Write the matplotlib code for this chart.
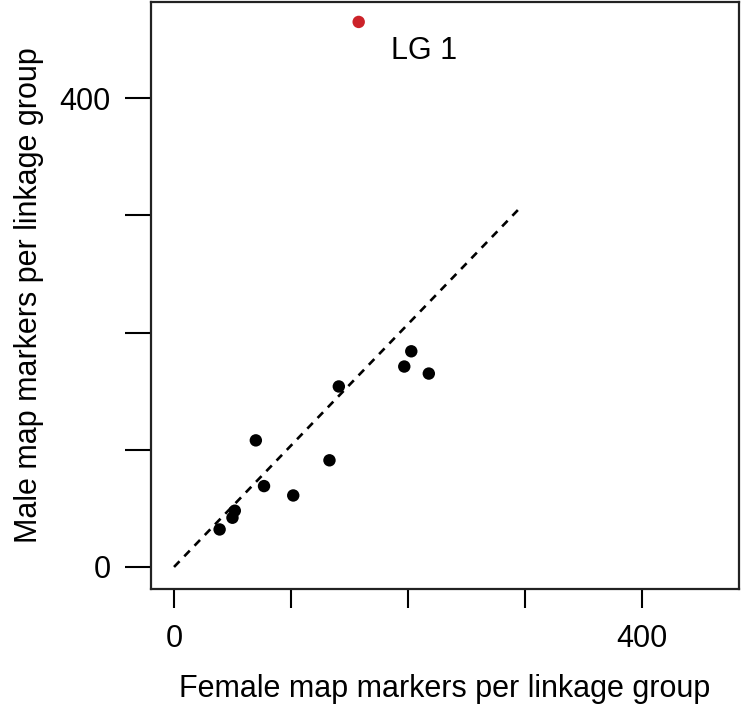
import numpy as np
import matplotlib
matplotlib.use("Agg")
import matplotlib.pyplot as plt

plt.rcParams['font.family'] = ['Liberation Sans', 'DejaVu Sans']

# markers per linkage group (female, male)
female = [141, 203, 197, 218, 70, 133, 77, 102, 52, 50, 39]
male = [154, 184, 171, 165, 108, 91, 69, 61, 48, 42, 32]

# outlier linkage group
lg1_female = 158
lg1_male = 465
lg1_label = "LG 1"

# reference line
line_x = np.array([0, 297])
slope = 1.035

xticks = [0, 100, 200, 300, 400]
xticklabels = ["0", "", "", "", "400"]
yticks = [0, 100, 200, 300, 400]
yticklabels = ["0", "", "", "", "400"]

fig = plt.figure(figsize=(7.41, 7.05), dpi=100)
ax = fig.add_axes([151/741, 1 - 589/705, 588/741, 587/705])

ax.plot(line_x, slope * line_x, color='black', lw=1.9, dashes=(3.0, 2.6))
ax.scatter(female, male, s=80, color='black', edgecolors='none', zorder=3)
ax.scatter([lg1_female], [lg1_male], s=80, color='#cc2229', edgecolors='none', zorder=3)
ax.text(lg1_female + 28, lg1_male - 25, lg1_label, fontsize=22, ha='left', va='center')

ax.set_xlim(-19.7, 483.4)
ax.set_ylim(-18.8, 482)

ax.set_xticks(xticks)
ax.set_xticklabels(xticklabels)
ax.set_yticks(yticks)
ax.set_yticklabels(yticklabels)
ax.tick_params(axis='x', length=14, width=1.5, pad=11, labelsize=22)
ax.tick_params(axis='y', length=19, width=1.5, pad=10, labelsize=22)

for s in ax.spines.values():
    s.set_linewidth(1.6)
    s.set_color('#222222')

ax.set_xlabel("Female map markers per linkage group", fontsize=22, va='center')
ax.xaxis.set_label_coords(0.5, -0.17)
ax.set_ylabel("Male map markers per linkage group", fontsize=22, va='center')
ax.yaxis.set_label_coords(-0.207, 0.5)

fig.savefig("out.png", dpi=100)
